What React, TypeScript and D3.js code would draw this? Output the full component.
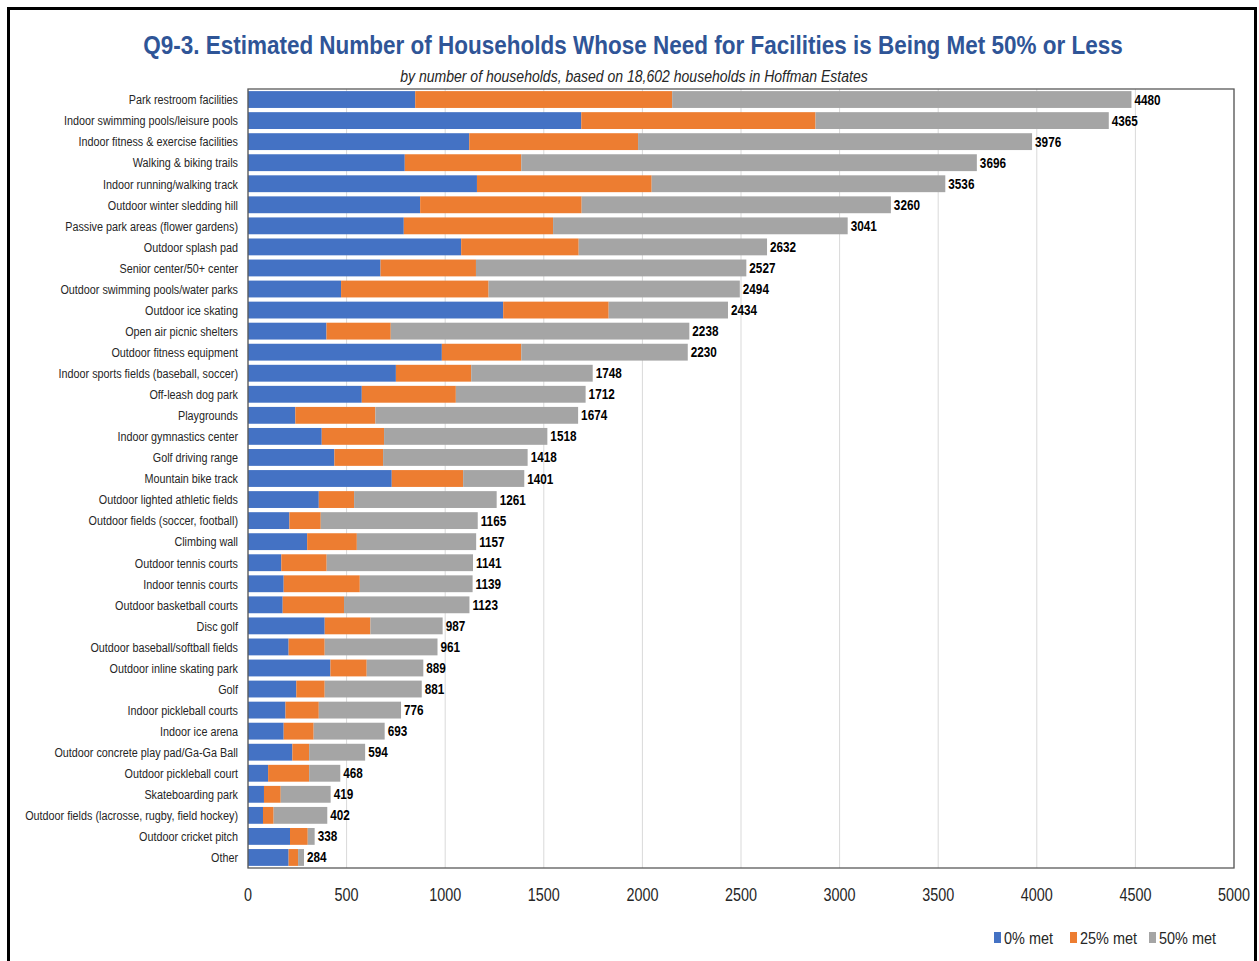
import React from "react";
import * as d3 from "d3";

const categories = [
  "Park restroom facilities",
  "Indoor swimming pools/leisure pools",
  "Indoor fitness & exercise facilities",
  "Walking & biking trails",
  "Indoor running/walking track",
  "Outdoor winter sledding hill",
  "Passive park areas (flower gardens)",
  "Outdoor splash pad",
  "Senior center/50+ center",
  "Outdoor swimming pools/water parks",
  "Outdoor ice skating",
  "Open air picnic shelters",
  "Outdoor fitness equipment",
  "Indoor sports fields (baseball, soccer)",
  "Off-leash dog park",
  "Playgrounds",
  "Indoor gymnastics center",
  "Golf driving range",
  "Mountain bike track",
  "Outdoor lighted athletic fields",
  "Outdoor fields (soccer, football)",
  "Climbing wall",
  "Outdoor tennis courts",
  "Indoor tennis courts",
  "Outdoor basketball courts",
  "Disc golf",
  "Outdoor baseball/softball fields",
  "Outdoor inline skating park",
  "Golf",
  "Indoor pickleball courts",
  "Indoor ice arena",
  "Outdoor concrete play pad/Ga-Ga Ball",
  "Outdoor pickleball court",
  "Skateboarding park",
  "Outdoor fields (lacrosse, rugby, field hockey)",
  "Outdoor cricket pitch",
  "Other",
];

const met0 = [848, 1690, 1122, 795, 1161, 873, 790, 1081, 672, 472, 1294, 398, 983, 750, 577, 240, 374, 438, 729, 359, 210, 300, 169, 181, 176, 389, 206, 418, 245, 190, 181, 225, 102, 81, 76, 213, 206];
const met25 = [1303, 1188, 856, 591, 886, 819, 757, 596, 484, 748, 535, 326, 403, 382, 477, 406, 316, 247, 362, 179, 159, 252, 230, 386, 311, 232, 183, 184, 144, 169, 152, 85, 208, 85, 54, 90, 48];
const met50 = [2329, 1487, 1998, 2310, 1489, 1568, 1494, 955, 1371, 1274, 605, 1514, 844, 616, 658, 1028, 828, 733, 310, 723, 796, 605, 742, 572, 636, 366, 572, 287, 492, 417, 360, 284, 158, 253, 272, 35, 30];

const seriesNames = ["0% met", "25% met", "50% met"];
const seriesColors = ["#4472C4", "#ED7D31", "#A5A5A5"];
const xTicks = [0, 500, 1000, 1500, 2000, 2500, 3000, 3500, 4000, 4500, 5000];

const W = 1259;
const H = 961;
const FONT = "'Liberation Sans', Arial, sans-serif";

export default function App() {
  const rows = categories.map((c, i) => ({ c, v: [met0[i], met25[i], met50[i]] }));
  const x = d3.scaleLinear().domain([0, 5000]).range([248, 1234]);
  const y = d3.scaleBand<string>().domain(categories).range([89, 868]).paddingInner(0.2).paddingOuter(0.1);
  const bw = y.bandwidth();
  const legendX = [994, 1070, 1149];

  return (
    <svg width={W} height={H} style={{ position: "absolute", left: 0, top: 0, background: "#fff" }} fontFamily={FONT}>
      <rect x={0} y={0} width={W} height={H} fill="#fff" />
      <rect x={8.5} y={8.5} width={1247} height={H + 20} fill="none" stroke="#000" strokeWidth={3} />
      <text transform="translate(633,54) scale(0.78,1)" textAnchor="middle" fontSize={26} fontWeight="bold" fill="#2F5597" textLength={1256} lengthAdjust="spacingAndGlyphs">
        Q9-3. Estimated Number of Households Whose Need for Facilities is Being Met 50% or Less
      </text>
      <text transform="translate(634,82) scale(0.85,1)" textAnchor="middle" fontSize={16} fontStyle="italic" fill="#262626" textLength={550} lengthAdjust="spacingAndGlyphs">
        by number of households, based on 18,602 households in Hoffman Estates
      </text>
      {xTicks.map((t) => (
        <line key={"g" + t} x1={x(t)} x2={x(t)} y1={89} y2={868} stroke="#D9D9D9" strokeWidth={1} />
      ))}
      {rows.map((r) => {
        let acc = 0;
        const yy = y(r.c)!;
        const total = d3.sum(r.v);
        return (
          <g key={r.c}>
            {r.v.map((v, k) => {
              const x0 = x(acc);
              acc += v;
              return <rect key={k} x={x0} y={yy} width={x(acc) - x0} height={bw} fill={seriesColors[k]} />;
            })}
            <text transform={`translate(${x(total) + 3},${yy + bw / 2 + 5}) scale(0.84,1)`} fontSize={14} fontWeight="bold" fill="#000">
              {total}
            </text>
            <text transform={`translate(238,${yy + bw / 2 + 4.8}) scale(0.8,1)`} textAnchor="end" fontSize={13.5} fill="#262626">
              {r.c}
            </text>
          </g>
        );
      })}
      <rect x={248} y={89} width={986} height={779} fill="none" stroke="#595959" strokeWidth={1.3} />
      {xTicks.map((t) => (
        <text key={"t" + t} transform={`translate(${x(t)},901) scale(0.8,1)`} textAnchor="middle" fontSize={18} fill="#262626">
          {t}
        </text>
      ))}
      {seriesNames.map((n, k) => (
        <g key={n}>
          <rect x={legendX[k]} y={932} width={7} height={11} fill={seriesColors[k]} />
          <text transform={`translate(${legendX[k] + 10},944) scale(0.85,1)`} fontSize={17} fill="#262626">
            {n}
          </text>
        </g>
      ))}
    </svg>
  );
}
